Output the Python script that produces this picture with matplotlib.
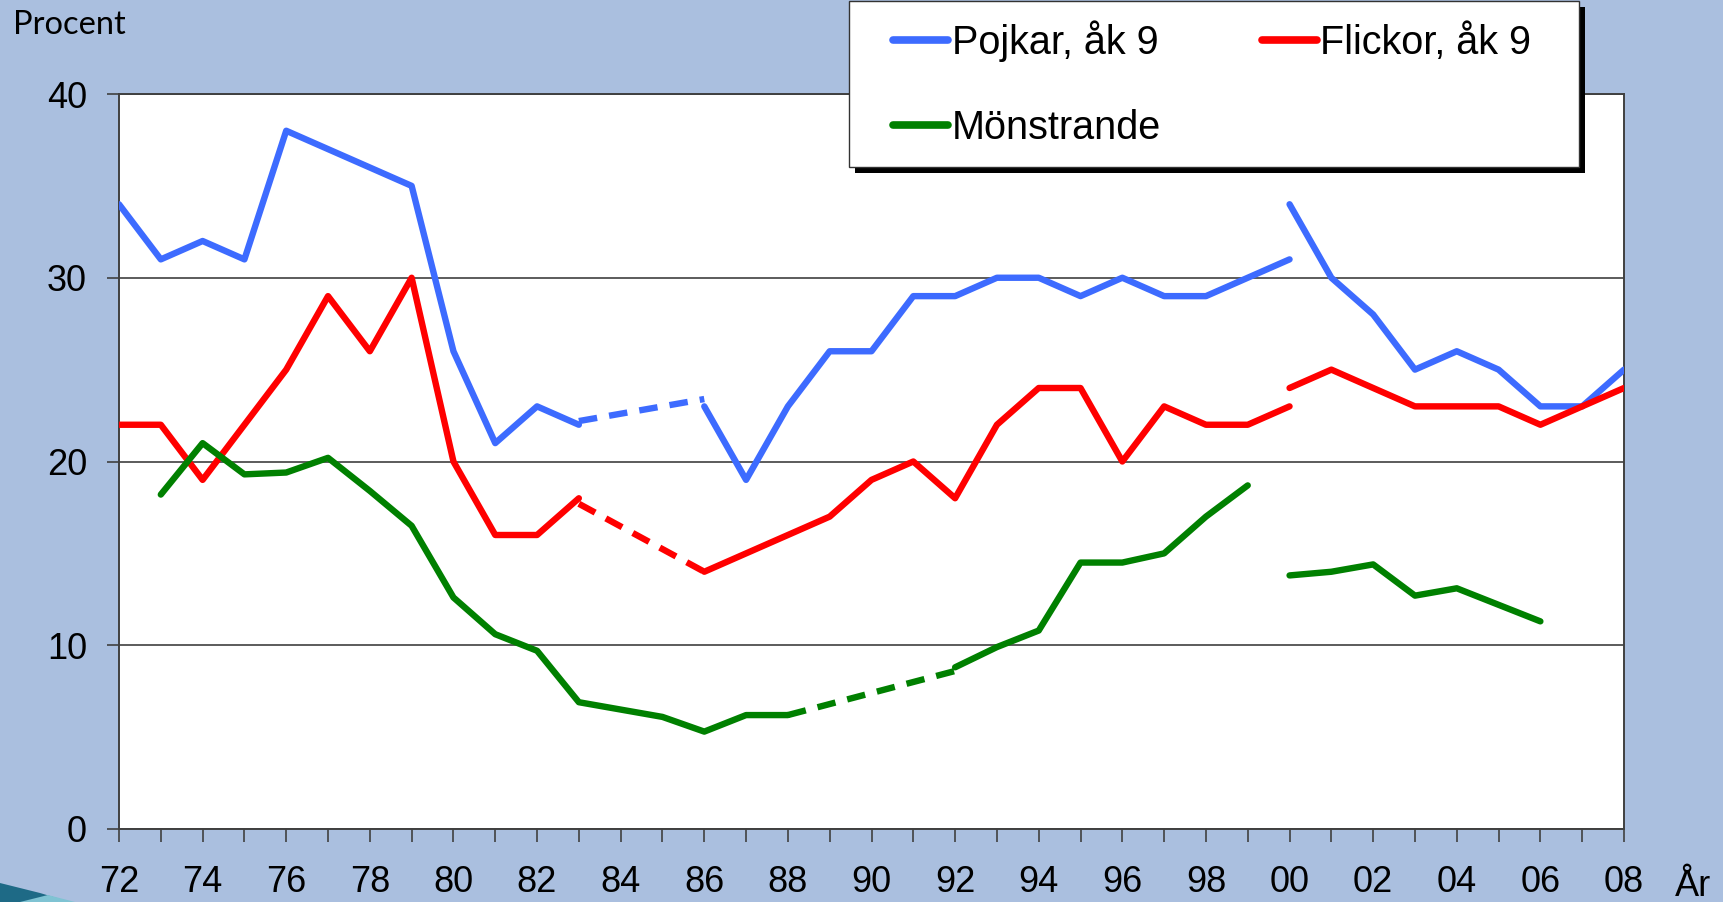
import matplotlib
matplotlib.use("Agg")
import matplotlib.pyplot as plt
from matplotlib.patches import Rectangle, Polygon
from matplotlib.lines import Line2D
import numpy as np

# ---------------- data ----------------
years_a = [1972, 1973, 1974, 1975, 1976, 1977, 1978, 1979, 1980, 1981, 1982, 1983]
pojkar_a = [34, 31, 32, 31, 38, 37, 36, 35, 26, 21, 23, 22]
flickor_a = [22, 22, 19, 22, 25, 29, 26, 30, 20, 16, 16, 18]

pojkar_gap_years = [1983, 1986]
pojkar_gap = [22.2, 23.4]
flickor_gap_years = [1983, 1986]
flickor_gap = [17.7, 14.0]

years_b = [1986, 1987, 1988, 1989, 1990, 1991, 1992, 1993, 1994, 1995, 1996, 1997, 1998, 1999, 2000]
pojkar_b = [23, 19, 23, 26, 26, 29, 29, 30, 30, 29, 30, 29, 29, 30, 31]
flickor_b = [14, 15, 16, 17, 19, 20, 18, 22, 24, 24, 20, 23, 22, 22, 23]

years_c = [2000, 2001, 2002, 2003, 2004, 2005, 2006, 2007, 2008]
pojkar_c = [34, 30, 28, 25, 26, 25, 23, 23, 25]
flickor_c = [24, 25, 24, 23, 23, 23, 22, 23, 24]

mon_years_a = [1973, 1974, 1975, 1976, 1977, 1978, 1979, 1980, 1981, 1982, 1983, 1984, 1985, 1986, 1987, 1988]
mon_a = [18.2, 21.0, 19.3, 19.4, 20.2, 18.4, 16.5, 12.6, 10.6, 9.7, 6.9, 6.5, 6.1, 5.3, 6.2, 6.2]
mon_gap_years = [1988, 1992]
mon_gap = [6.2, 8.6]
mon_years_b = [1992, 1993, 1994, 1995, 1996, 1997, 1998, 1999]
mon_b = [8.8, 9.9, 10.8, 14.5, 14.5, 15.0, 17.0, 18.7]
mon_years_c = [2000, 2001, 2002, 2003, 2004, 2005, 2006]
mon_c = [13.8, 14.0, 14.4, 12.7, 13.1, 12.2, 11.3]

tick_years = list(range(1972, 2009))
tick_labels = [f"{y % 100:02d}" if y % 2 == 0 else "" for y in tick_years]
y_ticks = [0, 10, 20, 30, 40]
series_names = ["Pojkar, åk 9", "Flickor, åk 9", "Mönstrande"]

# ---------------- style ----------------
BG = "#AABFDF"
BLUE = "#3D6BFF"
RED = "#FF0000"
GREEN = "#008000"
LW = 4.6
DASH = (0, (2.9, 1.9))

plt.rcParams["font.family"] = ["Liberation Sans", "DejaVu Sans"]

W, H = 1723, 902
fig = plt.figure(figsize=(W / 100, H / 100), dpi=100, facecolor=BG)
ax = fig.add_axes([119 / W, 1 - 829 / H, (1624 - 119) / W, (829 - 94) / H])
ax.set_facecolor("white")

solid_kw = dict(lw=LW, solid_capstyle="round", solid_joinstyle="round", zorder=3)
dash_kw = dict(lw=LW, linestyle=DASH, dash_capstyle="butt", zorder=3)

ax.plot(years_a, pojkar_a, color=BLUE, **solid_kw)
ax.plot(pojkar_gap_years, pojkar_gap, color=BLUE, **dash_kw)
ax.plot(years_b, pojkar_b, color=BLUE, **solid_kw)
ax.plot(years_c, pojkar_c, color=BLUE, **solid_kw)

ax.plot(years_a, flickor_a, color=RED, **solid_kw)
ax.plot(flickor_gap_years, flickor_gap, color=RED, **dash_kw)
ax.plot(years_b, flickor_b, color=RED, **solid_kw)
ax.plot(years_c, flickor_c, color=RED, **solid_kw)

ax.plot(mon_years_a, mon_a, color=GREEN, **solid_kw)
ax.plot(mon_gap_years, mon_gap, color=GREEN, **dash_kw)
ax.plot(mon_years_b, mon_b, color=GREEN, **solid_kw)
ax.plot(mon_years_c, mon_c, color=GREEN, **solid_kw)

ax.set_xlim(1972, 2008)
ax.set_ylim(0, 40)
ax.set_yticks(y_ticks)
ax.set_yticklabels([str(v) for v in y_ticks])
ax.set_xticks(tick_years)
ax.set_xticklabels(tick_labels)
ax.tick_params(axis="both", direction="out", length=9, width=1.2, color="#404040",
               labelsize=26, labelcolor="black")
ax.tick_params(axis="y", pad=14)
ax.tick_params(axis="x", pad=17)
ax.grid(axis="y", color="#404040", lw=1.2, zorder=1)
ax.set_axisbelow(True)
for s in ax.spines.values():
    s.set_color("#404040")
    s.set_linewidth(1.4)

# texts
fig.text(13 / W, 1 - 25 / H, "Procent", fontsize=23.5, family=["Lato", "DejaVu Sans"],
         ha="left", va="center")
fig.text(1693 / W, 1 - 886 / H, "År", fontsize=26, ha="center", va="center")

# slide decoration swoosh
fig.add_artist(Polygon([(0, 0), (0, 19 / H), (40 / W, 9 / H), (70 / W, 0)],
                       closed=True, transform=fig.transFigure, facecolor="#1E6A86",
                       edgecolor="none", zorder=1))
fig.add_artist(Polygon([(20 / W, 0), (48 / W, 7 / H), (75 / W, 0)],
                       closed=True, transform=fig.transFigure, facecolor="#7FC3D3",
                       edgecolor="none", zorder=1))

# legend box (frame + shadow drawn in figure pixels)
bx0, bx1, by0, by1 = 849, 1579, 1, 167
fig.add_artist(Rectangle((bx0 + 6, H - by1 - 6), bx1 - bx0, by1 - by0, transform=None,
                         facecolor="black", edgecolor="none", zorder=8))
fig.add_artist(Rectangle((bx0, H - by1), bx1 - bx0, by1 - by0, transform=None,
                         facecolor="white", edgecolor="#333333", lw=1.0, zorder=9))

handles = [Line2D([], [], color=BLUE, lw=5.5, solid_capstyle="round"),
           Line2D([], [], color=GREEN, lw=5.5, solid_capstyle="round"),
           Line2D([], [], color=RED, lw=5.5, solid_capstyle="round")]
labels = [series_names[0], series_names[2], series_names[1]]
leg = fig.legend(handles, labels, ncol=2, loc="upper left",
                 bbox_to_anchor=(893 / W, 1 - 20 / H),
                 fontsize=28.5, handlelength=1.4, handletextpad=0.08,
                 columnspacing=2.55, labelspacing=1.2, borderpad=0, borderaxespad=0,
                 frameon=False)
leg.set_zorder(10)

fig.savefig("out.png", dpi=100, facecolor=BG)
